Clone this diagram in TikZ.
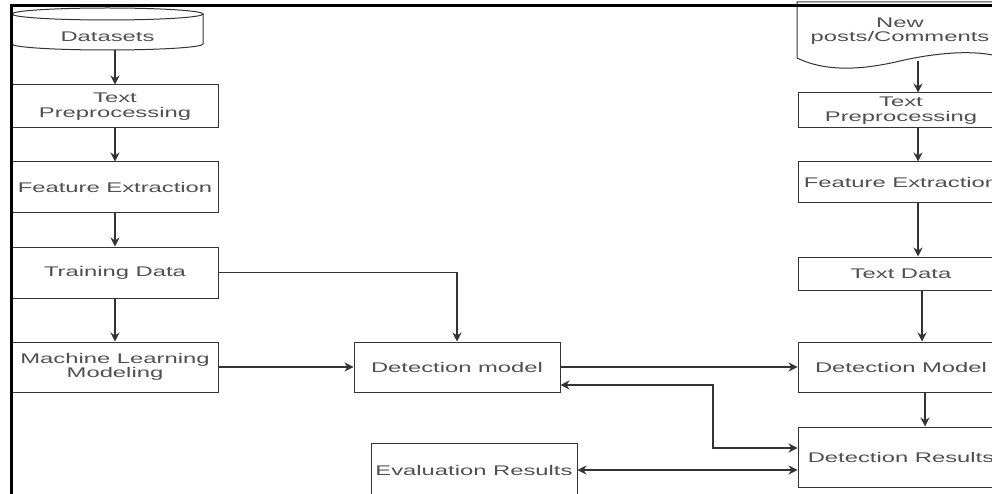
\documentclass[tikz,border=0pt]{standalone}
\usepackage{fontspec}
\setmainfont{Liberation Sans}[FakeStretch=1.7]
\usetikzlibrary{arrows.meta,calc}
\definecolor{ln}{HTML}{333333}
\definecolor{tx}{HTML}{505050}
\begin{document}
\begin{tikzpicture}[x=1pt,y=-1pt,
  box/.style={draw=ln, line width=1pt, fill=white, text=tx, align=center, inner sep=1pt,
    minimum width=206pt, font=\fontsize{14}{14.5}\selectfont},
  lbl/.style={text=tx, align=center, inner sep=1pt, font=\fontsize{14}{14.5}\selectfont},
  shp/.style={draw=ln, line width=1pt, fill=white},
  arr/.style={draw=ln, line width=1.1pt, -{Stealth[length=9pt,width=9pt]}},
  biarr/.style={draw=ln, line width=1.1pt, {Stealth[length=9pt,width=9pt]}-{Stealth[length=9pt,width=9pt]}},
  border/.style={draw=black, line width=3pt}]
\clip (0,0) rectangle (992,494);
\fill[white] (0,0) rectangle (992,494);
% cylinder "Datasets"
\path[shp] (12,14) -- (12,44) arc[start angle=180, end angle=0, x radius=95.5, y radius=6] -- (203,14);
\path[shp] (107.5,14) ellipse[x radius=95.5, y radius=6];
\node[lbl] (ds) at (107.5,37) {Datasets};
\coordinate (dsb) at (115,50);
% document "New posts/Comments"
\path[shp] (797,2) -- (797,58) .. controls (830,74) and (870,68) .. (900,61)
  .. controls (930,54) and (975,48) .. (1004,58) -- (1004,2) -- cycle;
\node[lbl] (doc) at (900,31) {New\\posts/Comments};
\coordinate (docb) at (918,61);
% left column
\node[box, minimum height=43pt] (tp1) at (115,106.5) {Text\\Preprocessing};
\node[box, minimum height=51pt] (fe1) at (115,187.5) {Feature Extraction};
\node[box, minimum height=51pt] (td1) at (115,272.5) {Training Data};
\node[box, minimum height=50pt] (ml1) at (115,367) {Machine Learning\\Modeling};
% middle
\node[box, minimum height=50pt] (dm) at (457,367) {Detection model};
\node[box, minimum height=54pt] (ev) at (474,470) {Evaluation Results};
% right column
\node[box, minimum height=35pt] (tp2) at (901,110.5) {Text\\Preprocessing};
\node[box, minimum height=41pt] (fe2) at (901,182.5) {Feature Extraction};
\node[box, minimum height=33pt] (td2) at (901,273.5) {Text Data};
\node[box, minimum height=50pt] (dm2) at (901,367) {Detection Model};
\node[box, minimum height=60pt] (dr) at (901,457) {Detection Results};
\coordinate (bend) at (713,448);
% connectors left
\draw[arr] (dsb) -- (tp1.north);
\draw[arr] (tp1) -- (fe1);
\draw[arr] (fe1) -- (td1);
\draw[arr] (td1) -- (ml1);
\draw[arr] (td1.east) -| (dm.north);
\draw[arr] (ml1) -- (dm);
\draw[arr] (dm) -- (dm2);
\draw[biarr] ([yshift=-18pt]dm.east) -| (bend) -- ([yshift=9pt]dr.west);
\draw[biarr] (ev.east) -- (ev.east -| dr.west);
% connectors right
\draw[arr] (docb) -- (docb |- tp2.north);
\draw[arr] ([xshift=17pt]tp2.south) -- ([xshift=17pt]fe2.north);
\draw[arr] ([xshift=17pt]fe2.south) -- ([xshift=17pt]fe2.south |- td2.north);
\draw[arr] ([xshift=21pt]td2.south) -- ([xshift=21pt]td2.south |- dm2.north);
\draw[arr] ([xshift=24pt]dm2.south) -- ([xshift=24pt]dm2.south |- dr.north);
% frame lines
\draw[border] (11,494) -- (11,6) -- (992,6);
\end{tikzpicture}
\end{document}
